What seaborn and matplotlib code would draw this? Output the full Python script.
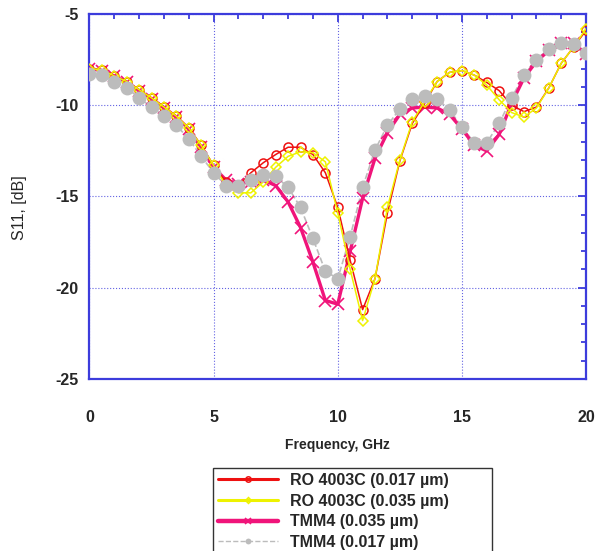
import numpy as np
import pandas as pd
import matplotlib.pyplot as plt
import seaborn as sns
from matplotlib.ticker import MultipleLocator

# Frequency grid (GHz), one point every 0.5 GHz
freq = np.arange(0, 20.5, 0.5)

# S11 values, [dB]
ro_017 = [-8.0, -8.05, -8.4, -8.7, -9.15, -9.6, -10.1, -10.6, -11.25, -12.2,
          -13.3, -14.2, -14.4, -13.7, -13.15, -12.7, -12.3, -12.3, -12.7, -13.7,
          -15.6, -18.5, -21.2, -19.5, -15.9, -13.05, -11.0, -9.9, -8.7, -8.2,
          -8.1, -8.35, -8.75, -9.2, -10.0, -10.35, -10.1, -9.05, -7.7, -6.8, -5.9]
ro_035 = [-8.0, -8.05, -8.4, -8.7, -9.15, -9.6, -10.1, -10.6, -11.25, -12.2,
          -13.3, -14.4, -14.8, -14.8, -14.2, -13.4, -12.8, -12.55, -12.6, -13.1,
          -15.9, -19.0, -21.8, -19.5, -15.6, -13.0, -10.9, -9.8, -8.7, -8.2,
          -8.1, -8.35, -8.9, -9.7, -10.4, -10.65, -10.15, -9.05, -7.7, -6.8, -5.8]
tmm_035 = [-8.0, -8.1, -8.4, -8.75, -9.2, -9.65, -10.15, -10.65, -11.3, -12.3,
           -13.4, -14.1, -14.3, -14.2, -14.1, -14.4, -15.3, -16.7, -18.6, -20.7,
           -20.9, -18.0, -15.1, -12.9, -11.5, -10.5, -10.15, -10.1, -10.15, -10.5,
           -11.3, -12.2, -12.5, -11.6, -9.9, -8.5, -7.6, -7.0, -6.6, -6.6, -7.2]
tmm_017 = [-8.3, -8.35, -8.7, -9.05, -9.6, -10.1, -10.6, -11.1, -11.85, -12.8,
           -13.7, -14.4, -14.4, -14.1, -13.8, -13.9, -14.5, -15.6, -17.3, -19.1,
           -19.5, -17.2, -14.5, -12.45, -11.1, -10.2, -9.65, -9.5, -9.65, -10.25,
           -11.2, -12.05, -12.05, -11.0, -9.6, -8.35, -7.5, -6.9, -6.6, -6.65, -7.15]

labels = ['RO 4003C (0.017 µm)', 'RO 4003C (0.035 µm)',
          'TMM4 (0.035 µm)', 'TMM4 (0.017 µm)']

sns.set_style('white')
plt.rcParams['font.family'] = ['Liberation Sans', 'DejaVu Sans']
plt.rcParams['axes.unicode_minus'] = False

fig = plt.figure(figsize=(5.95, 5.51), dpi=100)
ax = fig.add_axes([0.1504, 0.3122, 0.8346, 0.9746 - 0.3122])

blue = '#3c3cdc'
gray = '#bcbcbc'
red = '#ee1111'
yellow = '#eef200'
pink = '#f0147a'

# gray dashed line sits under the other curves, its markers go on top
sns.lineplot(x=freq, y=tmm_017, ax=ax, color=gray, linewidth=1.2, linestyle='--',
             marker='o', markersize=7, markeredgewidth=0, markeredgecolor=gray,
             label=labels[3], zorder=2)
sns.lineplot(x=freq, y=tmm_035, ax=ax, color=pink, linewidth=2.4, linestyle='-',
             marker='x', markersize=8, markeredgewidth=1.2, markeredgecolor=pink,
             label=labels[2], zorder=3)
sns.lineplot(x=freq, y=ro_017, ax=ax, color=red, linewidth=1.1, linestyle='-',
             marker='o', markersize=6.5, markerfacecolor='none', markeredgewidth=1.1,
             markeredgecolor=red, label=labels[0], zorder=4)
sns.lineplot(x=freq, y=ro_035, ax=ax, color=yellow, linewidth=1.1, linestyle='-',
             marker='D', markersize=5, markerfacecolor='none', markeredgewidth=1.1,
             markeredgecolor=yellow, label=labels[1], zorder=4)
sns.lineplot(x=freq, y=tmm_017, ax=ax, color=gray, linestyle='none',
             marker='o', markersize=10, markeredgewidth=0, markeredgecolor=gray,
             label='_nolegend_', zorder=5)

ax.set_xlim(0, 20)
ax.set_ylim(-25, -5)
ax.xaxis.set_major_locator(MultipleLocator(5))
ax.xaxis.set_minor_locator(MultipleLocator(1))
ax.yaxis.set_major_locator(MultipleLocator(5))
ax.yaxis.set_minor_locator(MultipleLocator(1))

for s in ax.spines.values():
    s.set_color(blue)
    s.set_linewidth(1.6)

ax.tick_params(which='both', direction='in', top=True, right=True, color=blue, width=1.3)
ax.tick_params(which='major', length=5.5)
ax.tick_params(which='minor', length=3.5)
ax.tick_params(axis='x', which='major', pad=22, labelsize=11.5)
ax.tick_params(axis='y', which='major', pad=8, labelsize=11.5)
for t in ax.get_xticklabels() + ax.get_yticklabels():
    t.set_fontweight('bold')

ax.grid(True, which='major', color=blue, linestyle=':', linewidth=0.8, alpha=0.8)

ax.set_xlabel('Frequency, GHz', fontsize=10, fontweight='bold', labelpad=10)
ax.set_ylabel('S11, [dB]', fontsize=11.5)
ax.yaxis.set_label_coords(-0.125, 0.47)

handles, labs = ax.get_legend_handles_labels()
order = [labs.index(l) for l in labels]
ax.get_legend().remove()
leg = fig.legend([handles[i] for i in order], [labs[i] for i in order],
                 loc='upper left', bbox_to_anchor=(0.358, -0.3, 0.469, 0.4506),
                 mode='expand', borderaxespad=0, frameon=True,
                 fancybox=False, edgecolor='black', handlelength=3.8,
                 handletextpad=0.7, labelspacing=0.36, borderpad=0.3, markerscale=0.6,
                 prop={'weight': 'bold', 'size': 11.5})
leg.get_frame().set_linewidth(1.0)
# thicker strokes in the legend keys, as in the original
for line, lw in zip(leg.get_lines(), [2.2, 2.2, 3.2, 1.0]):
    line.set_linewidth(lw)

plt.savefig('out.png', dpi=100)
